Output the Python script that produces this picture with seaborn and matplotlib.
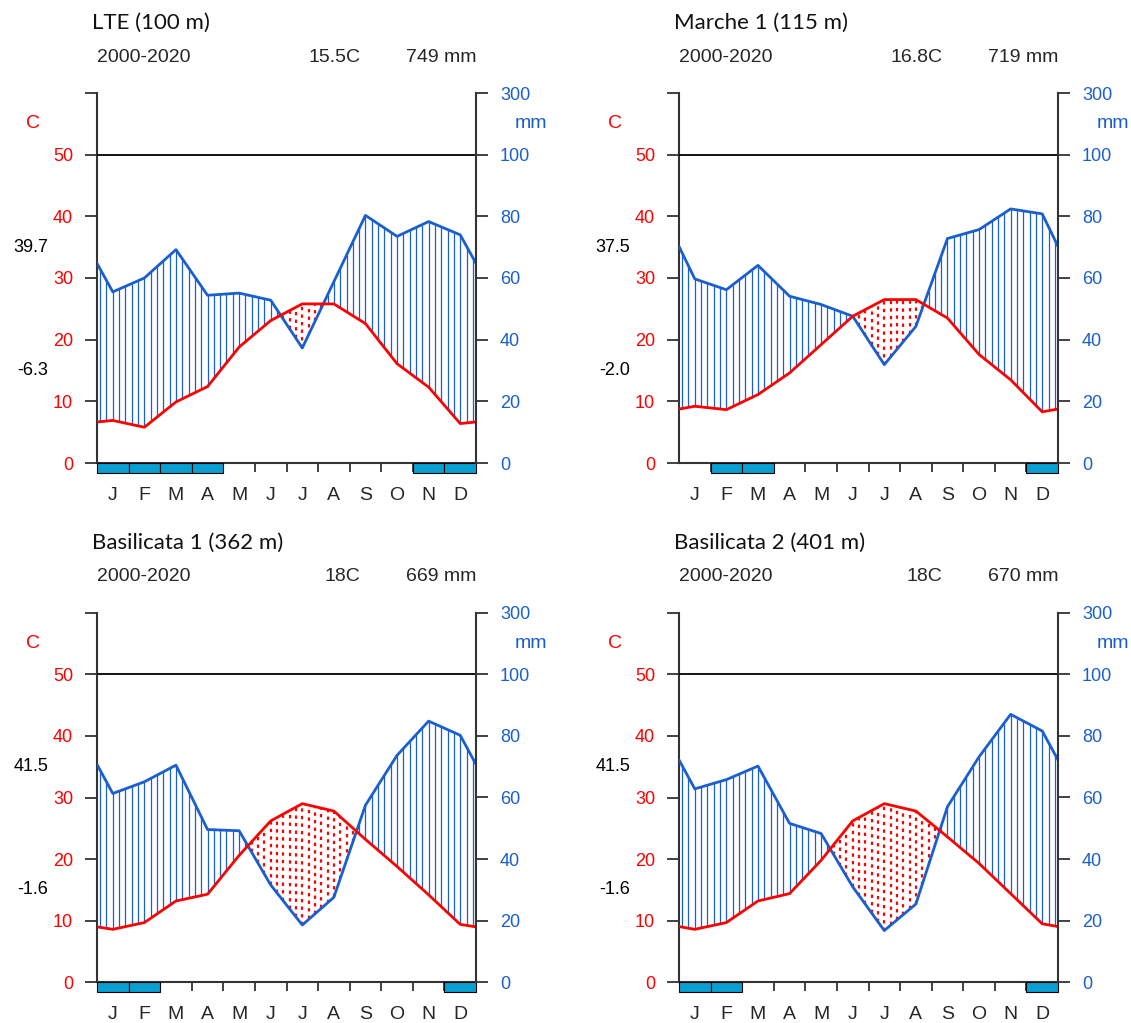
import numpy as np
import pandas as pd
import matplotlib
matplotlib.use("Agg")
import matplotlib.pyplot as plt
import seaborn as sns
from matplotlib.patches import Rectangle

# ---------------- data ----------------
months = ["J", "F", "M", "A", "M", "J", "J", "A", "S", "O", "N", "D"]
titles = ["LTE (100 m)", "Marche 1 (115 m)", "Basilicata 1 (362 m)", "Basilicata 2 (401 m)"]
periods = ["2000-2020", "2000-2020", "2000-2020", "2000-2020"]
mean_temp_labels = ["15.5C", "16.8C", "18C", "18C"]
total_prec_labels = ["749 mm", "719 mm", "669 mm", "670 mm"]
abs_max_labels = ["39.7", "37.5", "41.5", "41.5"]
abs_min_labels = ["-6.3", "-2.0", "-1.6", "-1.6"]

temp_lte = [6.9, 5.8, 9.9, 12.4, 18.8, 23.1, 25.8, 25.8, 22.6, 16.1, 12.3, 6.4]
prec_lte = [55.5, 60.0, 69.2, 54.4, 55.1, 52.8, 37.3, 58.8, 80.3, 73.5, 78.3, 74.0]
frost_lte = [1, 1, 1, 1, 0, 0, 0, 0, 0, 0, 1, 1]

temp_marche = [9.2, 8.65, 11.1, 14.6, 19.2, 23.8, 26.5, 26.5, 23.5, 17.6, 13.5, 8.3]
prec_marche = [59.7, 56.2, 64.1, 54.1, 51.4, 47.6, 31.9, 44.3, 72.8, 75.7, 82.4, 80.8]
frost_marche = [0, 1, 1, 0, 0, 0, 0, 0, 0, 0, 0, 1]

temp_bas1 = [8.6, 9.7, 13.2, 14.3, 20.6, 26.2, 29.0, 27.8, 23.2, 18.8, 14.2, 9.4]
prec_bas1 = [61.3, 65.1, 70.5, 49.6, 49.2, 31.6, 18.6, 27.6, 57.5, 73.7, 84.8, 80.2]
frost_bas1 = [1, 1, 0, 0, 0, 0, 0, 0, 0, 0, 0, 1]

temp_bas2 = [8.6, 9.7, 13.2, 14.4, 19.8, 26.2, 29.0, 27.8, 23.6, 19.3, 14.4, 9.5]
prec_bas2 = [62.8, 65.8, 70.2, 51.6, 48.3, 31.0, 16.8, 25.4, 57.0, 73.2, 87.0, 81.6]
frost_bas2 = [1, 1, 0, 0, 0, 0, 0, 0, 0, 0, 0, 1]

left_ticks = [0, 10, 20, 30, 40, 50, 60]
left_labels = ["0", "10", "20", "30", "40", "50", ""]
right_labels = ["0", "20", "40", "60", "80", "100", "300"]

temps = [temp_lte, temp_marche, temp_bas1, temp_bas2]
precs = [prec_lte, prec_marche, prec_bas1, prec_bas2]
frosts = [frost_lte, frost_marche, frost_bas1, frost_bas2]

# ---------------- style ----------------
sns.set_style("white")
plt.rcParams['font.family'] = ['Liberation Sans', 'DejaVu Sans']

W, H, DPI = 1131, 1023, 100
PX = 72.0 / DPI
RED = "#ff0000"
BLUE = "#1a5fd0"
FROST = "#09a0d1"
AXC = "#333333"

fig = plt.figure(figsize=(W / DPI, H / DPI), dpi=DPI)

# panel frames in pixels: (left, top(60), bottom(0))
frames = [(97, 93, 463), (679, 93, 463), (97, 612.7, 982.3), (679, 612.7, 982.3)]
AW = 379


def pscale(p):
    p = np.asarray(p, float)
    return np.where(p <= 100, p / 2.0, 50 + (p - 100) / 20.0)


for k in range(4):
    xl, yt, yb = frames[k]
    ax = fig.add_axes([xl / W, 1 - yb / H, AW / W, (yb - yt) / H])
    t = np.asarray(temps[k], float)
    p = pscale(precs[k])
    xm = np.arange(12) + 0.5
    xe = np.concatenate([[0], xm, [12]])
    te = np.concatenate([[(t[0] + t[-1]) / 2], t, [(t[0] + t[-1]) / 2]])
    pe = np.concatenate([[(p[0] + p[-1]) / 2], p, [(p[0] + p[-1]) / 2]])

    # hatching
    xs = np.arange(0.1, 12, 0.2)
    ti = np.interp(xs, xe, te)
    pi = np.interp(xs, xe, pe)
    wet = pi > ti
    ax.vlines(xs[wet], ti[wet], pi[wet], color=BLUE, lw=0.9, zorder=2)
    ax.vlines(xs[~wet], pi[~wet], ti[~wet], color=RED, lw=1.6,
              linestyles=[(0, (1.5, 1.9))], zorder=2)

    dfp = pd.DataFrame({"x": xe, "v": pe})
    dft = pd.DataFrame({"x": xe, "v": te})
    sns.lineplot(data=dfp, x="x", y="v", color=BLUE, lw=2, ax=ax, zorder=4, sort=False)
    sns.lineplot(data=dft, x="x", y="v", color=RED, lw=2, ax=ax, zorder=5, sort=False)

    ax.axhline(50, color="black", lw=1.3, zorder=3)

    # frost boxes
    for i, f in enumerate(frosts[k]):
        if f:
            ax.add_patch(Rectangle((i, -1.55), 1, 1.55, fc=FROST, ec="black",
                                   lw=0.8, clip_on=False, zorder=6))

    ax.set_xlim(0, 12)
    ax.set_ylim(0, 60)
    ax.set_xlabel("")
    ax.set_ylabel("")
    ax.set_xticks(range(1, 12))
    ax.set_xticklabels([""] * 11)
    ax.set_xticks(xm, minor=True)
    ax.set_xticklabels(months, minor=True)
    ax.tick_params(axis="x", which="major", direction="out", length=9 * PX,
                   width=1.3, color=AXC, bottom=True)
    ax.tick_params(axis="x", which="minor", length=0, pad=17, labelsize=14,
                   bottom=True)
    ax.set_yticks(left_ticks)
    ax.set_yticklabels(left_labels)
    ax.tick_params(axis="y", direction="out", length=12 * PX, width=1.3,
                   color=AXC, labelcolor=RED, labelsize=13, pad=12 * PX, left=True)
    for s in ["top", "right"]:
        ax.spines[s].set_visible(False)
    for s in ["left", "bottom"]:
        ax.spines[s].set_color(AXC)
        ax.spines[s].set_linewidth(1.5)
    ax.grid(False)

    ax2 = ax.twinx()
    ax2.set_ylim(0, 60)
    ax2.set_yticks(left_ticks)
    ax2.set_yticklabels(right_labels)
    ax2.tick_params(axis="y", direction="out", length=12 * PX, width=1.3,
                    color=AXC, labelcolor=BLUE, labelsize=13, pad=12 * PX, right=True)
    for s in ["top", "left", "bottom"]:
        ax2.spines[s].set_visible(False)
    ax2.spines["right"].set_color(AXC)
    ax2.spines["right"].set_linewidth(1.5)
    ax2.grid(False)

    # labels around
    ax.annotate("C", xy=(0, 55), xytext=(-64 * PX, 0), textcoords="offset points",
                ha="center", va="center", color=RED, fontsize=14, annotation_clip=False)
    ax.annotate("mm", xy=(12, 55), xytext=(55 * PX, 0), textcoords="offset points",
                ha="center", va="center", color=BLUE, fontsize=14, annotation_clip=False)
    ax.annotate(abs_max_labels[k], xy=(0, 35), xytext=(-49 * PX, 0), textcoords="offset points",
                ha="right", va="center", color="black", fontsize=13, annotation_clip=False)
    ax.annotate(abs_min_labels[k], xy=(0, 15), xytext=(-49 * PX, 0), textcoords="offset points",
                ha="right", va="center", color="black", fontsize=13, annotation_clip=False)

    fig.text((xl - 5) / W, 1 - (yt - 70) / H, titles[k], fontsize=16,
             family=["Lato", "DejaVu Sans"], ha="left", va="center", color="#111111")
    fig.text(xl / W, 1 - (yt - 36) / H, periods[k], fontsize=14, ha="left", va="center")
    fig.text((xl + 0.694 * AW) / W, 1 - (yt - 36) / H, mean_temp_labels[k], fontsize=14,
             ha="right", va="center")
    fig.text((xl + AW) / W, 1 - (yt - 36) / H, total_prec_labels[k], fontsize=14,
             ha="right", va="center")

fig.savefig("out.png", dpi=DPI)
